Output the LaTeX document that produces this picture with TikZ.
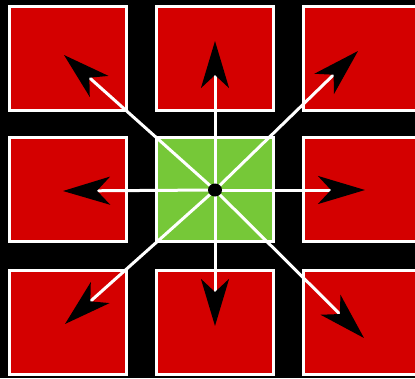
\documentclass[tikz,border=0pt]{standalone}
\usepackage{tikz}
\usetikzlibrary{arrows.meta}
\definecolor{cellR}{RGB}{212,0,0}
\definecolor{cellG}{RGB}{118,200,56}
\tikzset{cell/.style={draw=white, line width=3pt, inner sep=0pt,
  minimum width=117pt, minimum height=104pt},
  ray/.style={white, line width=3pt,
  -{Stealth[length=47pt, width=28pt, inset=13pt, black]}}}

\begin{document}
\begin{tikzpicture}[x=1pt, y=-1pt]
\useasboundingbox (0,0) rectangle (415,378);
\fill[black] (0,0) rectangle (415,378);
\clip (0,0) rectangle (415,378);
% ===== grid of cells: red ring round the green centre =====
\foreach \name/\cx/\cy in {nw/68/58.5, n/215/58.5, ne/362/58.5,
  w/68/189, e/362/189, sw/68/322, s/215/322, se/362/322}{
  \node[cell, fill=cellR] (\name) at (\cx,\cy) {};
}
\node[cell, fill=cellG] (mid) at (215,189) {};
% ===== rays out of the centre, one per neighbour =====
\coordinate (o) at (215,190);
\foreach \name/\tx/\ty in {n/215/41, s/215/326, w/63/191, e/365/190,
  nw/64/55, ne/358/51, sw/65/324, se/364/338}{
  \coordinate (tip-\name) at (\tx,\ty);
  \draw[ray] (o) -- (tip-\name);
}
\fill[black] (o) ellipse (7 and 6.5);
\end{tikzpicture}
\end{document}
